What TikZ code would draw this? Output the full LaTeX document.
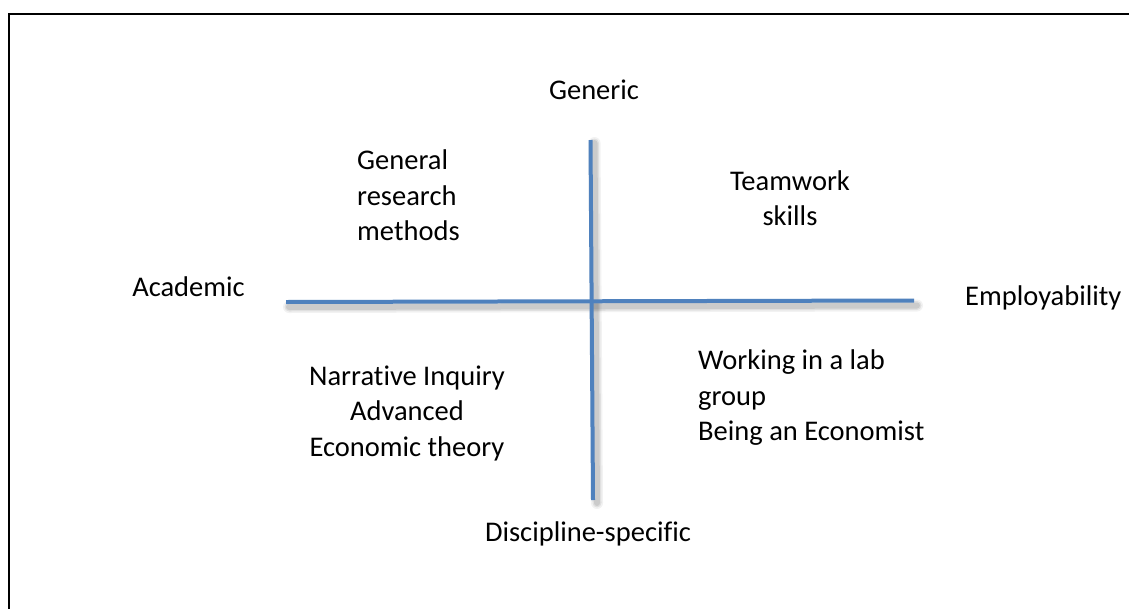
\documentclass[tikz,border=0pt]{standalone}
\usepackage{fontspec}
\setmainfont{Carlito}[Ligatures=NoCommon]
\definecolor{axisblue}{HTML}{4F81BD}
\begin{document}
\begin{tikzpicture}[x=1pt,y=-1pt,
  label text/.style={inner sep=0pt, font=\fontsize{28.5}{35.5}\selectfont,
    execute at begin node=\strut},
  axis/.style={draw=axisblue, line width=4pt},
  axis shadow/.style={draw=black, line cap=round}]
  \useasboundingbox (0,0) rectangle (1129,608);
  \clip (0,0) rectangle (1129,608);
  \fill[white] (0,0) rectangle (1129,608);

  % frame (continues past the right and bottom edges)
  \draw[line width=2pt] (9,14) rectangle (1160,640);

  % axis end points
  \coordinate (hl) at (286,302);
  \coordinate (hr) at (914,300.5);
  \coordinate (vt) at (590.5,140);
  \coordinate (vb) at (593,500);

  % soft shadows under the axes
  \foreach \w/\o in {12/0.05, 9/0.07, 6/0.09} {
    \draw[axis shadow, line width=\w pt, opacity=\o]
      ([shift={(3,5)}]hl) -- ([shift={(3,5)}]hr);
    \draw[axis shadow, line width=\w pt, opacity=\o]
      ([shift={(4,3)}]vt) -- ([shift={(4,3)}]vb);
  }

  % axes
  \draw[axis] (hl) -- (hr);
  \draw[axis] (vt) -- (vb);

  % axis labels
  \node[label text, anchor=north] (generic) at (594,74) {Generic};
  \node[label text, anchor=north] (discipline) at (588,516) {Discipline-specific};
  \node[label text, anchor=north] (academic) at (188.5,271) {Academic};
  \node[label text, anchor=north west] (employ) at (965,280) {Employability};

  % quadrant contents
  \node[label text, anchor=north west, align=left] (grm) at (357,150)
    {General\\research\\methods};
  \node[label text, anchor=north, align=center] (team) at (790,170.5)
    {Teamwork\\skills};
  \node[label text, anchor=north, align=center] (narr) at (407,365.5)
    {Narrative Inquiry\\Advanced\\Economic theory};
  \node[label text, anchor=north west, align=left] (lab) at (698,350)
    {Working in a lab\\group\\Being an Economist};
\end{tikzpicture}
\end{document}
